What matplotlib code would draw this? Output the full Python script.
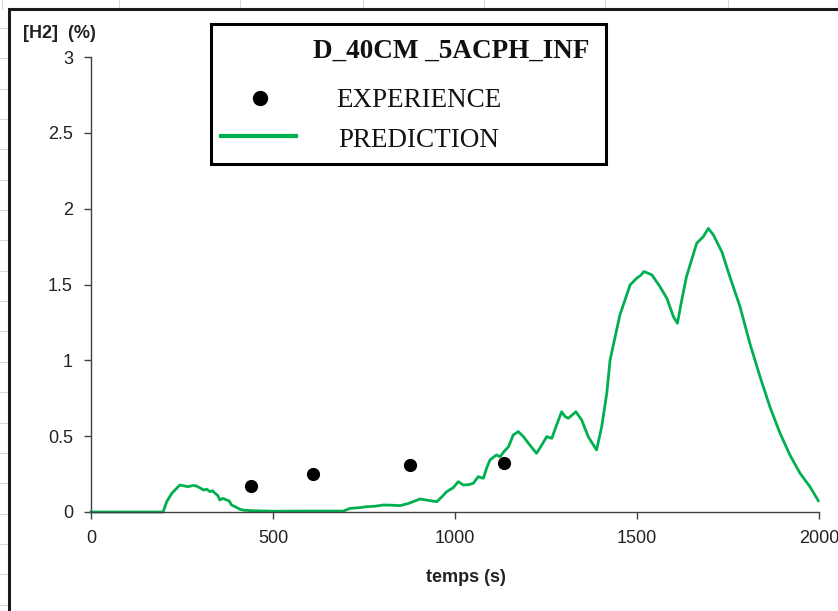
import matplotlib
matplotlib.use("Agg")
import matplotlib.pyplot as plt
from matplotlib.lines import Line2D
from matplotlib.patches import Rectangle

# ---------------- data ----------------
exp_t = [440, 610, 875, 1135]
exp_h = [0.17, 0.25, 0.31, 0.32]

pred_t = [0, 100, 198, 208, 222, 244, 256, 267, 280, 290, 300, 309, 318, 327, 334,
          341, 348, 354, 362, 373, 380, 386, 396, 409, 420, 437, 500, 600, 693, 712,
          735, 757, 780, 803, 825, 849, 870, 885, 904, 918, 931, 950, 964, 977, 995,
          1009, 1023, 1037, 1050, 1064, 1078, 1087, 1096, 1105, 1114, 1124, 1135, 1147,
          1160, 1174, 1188, 1206, 1224, 1238, 1252, 1266, 1280, 1293, 1302, 1311, 1322,
          1332, 1348, 1366, 1378, 1389, 1403, 1417, 1426, 1440, 1453, 1467, 1481, 1499,
          1510, 1519, 1530, 1541, 1563, 1582, 1600, 1611, 1623, 1636, 1650, 1664, 1682,
          1696, 1710, 1733, 1755, 1783, 1810, 1838, 1865, 1893, 1920, 1948, 1975, 1998]
pred_h = [0, 0, 0, 0.068, 0.123, 0.178, 0.172, 0.167, 0.175, 0.171, 0.158, 0.145, 0.15,
          0.134, 0.14, 0.123, 0.11, 0.079, 0.09, 0.079, 0.072, 0.046, 0.035, 0.018, 0.012,
          0.009, 0.005, 0.006, 0.006, 0.024, 0.028, 0.035, 0.038, 0.046, 0.045, 0.042,
          0.055, 0.068, 0.086, 0.08, 0.075, 0.068, 0.1, 0.134, 0.16, 0.2, 0.178, 0.18,
          0.189, 0.233, 0.222, 0.29, 0.343, 0.36, 0.376, 0.365, 0.4, 0.43, 0.508, 0.53,
          0.497, 0.44, 0.387, 0.44, 0.497, 0.486, 0.58, 0.661, 0.63, 0.618, 0.64, 0.661,
          0.607, 0.497, 0.45, 0.409, 0.563, 0.783, 1.002, 1.156, 1.299, 1.398, 1.497,
          1.541, 1.56, 1.585, 1.575, 1.563, 1.486, 1.409, 1.288, 1.244, 1.398, 1.552,
          1.662, 1.772, 1.815, 1.87, 1.826, 1.716, 1.552, 1.354, 1.112, 0.892, 0.694,
          0.519, 0.376, 0.255, 0.167, 0.075]

x_ticks = [0, 500, 1000, 1500, 2000]
y_ticks = [0, 0.5, 1, 1.5, 2, 2.5, 3]
y_tick_labels = ["0", "0.5", "1", "1.5", "2", "2.5", "3"]

legend_title = "D_40CM _5ACPH_INF"
label_exp = "EXPERIENCE"
label_pred = "PREDICTION"
y_label = "[H2]  (%)"
x_label = "temps (s)"

# ---------------- figure ----------------
W, H = 838, 611
fig = plt.figure(figsize=(W / 100, H / 100), dpi=100)


def fx(x):
    return x / W


def fy(y):
    return 1 - y / H


# Excel sheet gridlines outside the chart
for xv in [2, 119, 240, 363, 484, 605, 728]:
    fig.add_artist(Line2D([fx(xv)] * 2, [1, fy(9)], color="#d9d9d9", lw=0.8, zorder=-10))
k = 0
while True:
    yv = 28 + 30.35 * k
    if yv > H:
        break
    fig.add_artist(Line2D([0, fx(9)], [fy(yv)] * 2, color="#d9d9d9", lw=0.8, zorder=-10))
    k += 1

# chart area
fig.add_artist(Rectangle((fx(8.5), -0.2), 1.5, fy(8.5) + 0.2, facecolor="white",
                         edgecolor="#1a1a1a", lw=2.2, zorder=-5))

ax = fig.add_axes([fx(91), fy(512), (819 - 91) / W, (512 - 57) / H])
ax.set_facecolor("none")

ax.plot(pred_t, pred_h, color="#00b050", lw=2.0, zorder=2, clip_on=False)
ax.scatter(exp_t, exp_h, s=72, color="black", zorder=3, clip_on=False)

ax.set_xlim(0, 2000)
ax.set_ylim(0, 3)
ax.set_xticks(x_ticks)
ax.set_yticks(y_ticks)
ax.set_yticklabels(y_tick_labels)

for s in ["top", "right"]:
    ax.spines[s].set_visible(False)
for s in ["left", "bottom"]:
    ax.spines[s].set_color("#404040")
    ax.spines[s].set_linewidth(1.0)

ax.tick_params(axis="both", direction="out", length=5, width=1.0, color="#404040",
               labelcolor="#222222", labelsize=13)
ax.tick_params(axis="x", pad=8)
ax.tick_params(axis="y", pad=8)
for lab in ax.get_xticklabels() + ax.get_yticklabels():
    lab.set_family("Liberation Sans")

fig.text(fx(23), fy(33), y_label, family="Liberation Sans", fontweight="bold",
         fontsize=13, ha="left", va="center", color="#222222")
fig.text(fx(466), fy(578), x_label, family="Liberation Sans", fontweight="bold",
         fontsize=13, ha="center", va="center", color="#222222")

# legend box
fig.add_artist(Rectangle((fx(211), fy(163.5)), (606 - 211) / W, (163.5 - 23.5) / H,
                         facecolor="white", edgecolor="black", lw=2.2, zorder=5))
fig.text(fx(313), fy(58), legend_title, family="Liberation Serif", fontweight="bold",
         fontsize=19.5, ha="left", va="baseline", color="#111111", zorder=6)
fig.add_artist(Line2D([fx(260)], [fy(98)], marker="o", markersize=10, color="black",
                      lw=0, zorder=6))
fig.text(fx(336), fy(107), label_exp, family="Liberation Serif", fontsize=19.5,
         ha="left", va="baseline", color="#111111", zorder=6)
fig.add_artist(Line2D([fx(221), fx(296)], [fy(136)] * 2, color="#00b050", lw=3.0,
                      zorder=6))
fig.text(fx(338), fy(147), label_pred, family="Liberation Serif", fontsize=19.5,
         ha="left", va="baseline", color="#111111", zorder=6)

fig.savefig("out.png", dpi=100)
